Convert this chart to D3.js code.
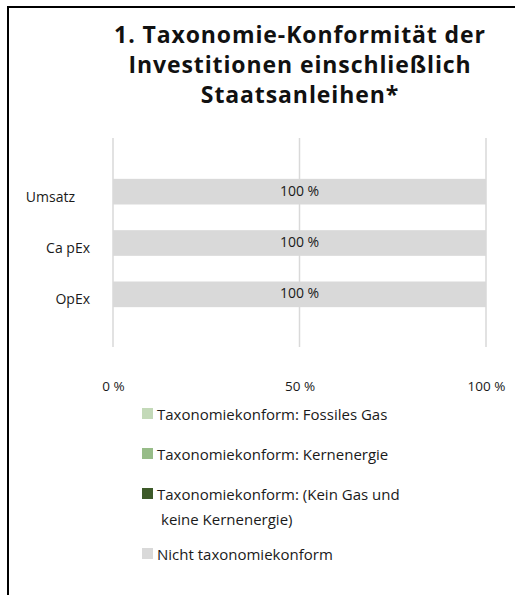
<!DOCTYPE html>
<html>
<head>
<meta charset="utf-8">
<script src="https://cdn.jsdelivr.net/npm/d3@7"></script>
<style>
  body { margin: 0; background: #fff; }
  svg { display: block; font-family: "Open Sans", "Noto Sans", sans-serif; }
</style>
</head>
<body>
<div id="chart"></div>
<script>
// chart data
const titleLines = ["1. Taxonomie-Konformität der", "Investitionen einschließlich", "Staatsanleihen*"];
const categories = ["Umsatz", "Ca pEx", "OpEx"];
const seriesNames = [
    "Taxonomiekonform: Fossiles Gas",
    "Taxonomiekonform: Kernenergie",
    "Taxonomiekonform: (Kein Gas und keine Kernenergie)",
    "Nicht taxonomiekonform"
];
const fossilGas = [0, 0, 0];
const nuclear = [0, 0, 0];
const otherAligned = [0, 0, 0];
const notAligned = [100, 100, 100];
const tickValues = [0, 50, 100];
const colors = ["#c3d9b8", "#97bc88", "#3d5a29", "#d9d9d9"];

const width = 517, height = 595;
const svg = d3.select("#chart").append("svg")
    .attr("width", width)
    .attr("height", height);

// frame (left + top edge only, as in the source)
svg.append("path")
    .attr("d", "M8,595 L8,7 L515,7")
    .attr("fill", "none")
    .attr("stroke", "#000")
    .attr("stroke-width", 2);

// title
svg.append("text")
    .attr("x", 300)
    .attr("y", 43)
    .attr("text-anchor", "middle")
    .style("font-family", "'Open Sans', sans-serif")
    .style("font-weight", "bold")
    .style("font-size", "23px")
    .style("letter-spacing", "0.9px")
    .style("fill", "#111")
    .selectAll("tspan")
    .data(titleLines)
    .join("tspan")
    .attr("x", 300)
    .attr("dy", (d, i) => i === 0 ? 0 : 30)
    .text(d => d);

// scales
const x = d3.scaleLinear().domain([0, 100]).range([113, 486]);
const y = d3.scaleBand().domain(categories).range([166, 320]).paddingInner(0.5).paddingOuter(0.25);

// stacked data
const rows = categories.map((c, i) => ({
    cat: c,
    vals: [fossilGas[i], nuclear[i], otherAligned[i], notAligned[i]]
}));

// gridlines
svg.append("g")
    .selectAll("line")
    .data(tickValues)
    .join("line")
    .attr("x1", d => x(d))
    .attr("x2", d => x(d))
    .attr("y1", 138)
    .attr("y2", 347)
    .attr("stroke", "#d9d9d9")
    .attr("stroke-width", 1.5);

// bars
rows.forEach(r => {
    let acc = 0;
    r.vals.forEach((v, k) => {
        if (v > 0) {
            svg.append("rect")
                .attr("x", x(acc))
                .attr("y", y(r.cat))
                .attr("width", x(acc + v) - x(acc))
                .attr("height", y.bandwidth())
                .attr("fill", colors[k]);
        }
        acc += v;
    });
});

// bar value labels
svg.append("g")
    .selectAll("text")
    .data(rows)
    .join("text")
    .attr("x", x(50))
    .attr("y", d => y(d.cat) + y.bandwidth() / 2 - 1)
    .attr("dy", "0.35em")
    .attr("text-anchor", "middle")
    .style("font-size", "14px")
    .style("fill", "#1a1a1a")
    .text(d => d.vals[3] + " %");

// category labels
svg.append("g")
    .selectAll("text")
    .data(categories)
    .join("text")
    .attr("x", (d, i) => i === 0 ? 75 : 90)
    .attr("y", d => y(d) + y.bandwidth() / 2 + 5)
    .attr("dy", "0.35em")
    .attr("text-anchor", "end")
    .style("font-size", "14px")
    .style("fill", "#1a1a1a")
    .text(d => d);

// x axis labels
const xAxis = svg.append("g")
    .attr("transform", "translate(0,378)")
    .call(d3.axisBottom(x).tickValues(tickValues).tickSize(0).tickFormat(d => d + " %"));
xAxis.select(".domain").remove();
xAxis.selectAll("text")
    .style("font-family", "'Open Sans', sans-serif")
    .style("font-size", "13.5px")
    .style("fill", "#1a1a1a");

// legend
const legendY = [408, 448, 488, 548];
const legend = svg.append("g");
seriesNames.forEach((name, i) => {
    const g = legend.append("g").attr("transform", `translate(142,${legendY[i]})`);
    g.append("rect")
        .attr("width", 11)
        .attr("height", 11)
        .attr("fill", colors[i]);
    const lines = i === 2 ? ["Taxonomiekonform: (Kein Gas und", "keine Kernenergie)"] : [name];
    const t = g.append("text")
        .attr("x", 15)
        .attr("y", 12)
        .style("font-size", "15px")
        .style("fill", "#1a1a1a");
    lines.forEach((l, j) => {
        t.append("tspan")
            .attr("x", j === 0 ? 15 : 19)
            .attr("dy", j === 0 ? 0 : 25)
            .text(l);
    });
});
</script>
</body>
</html>
